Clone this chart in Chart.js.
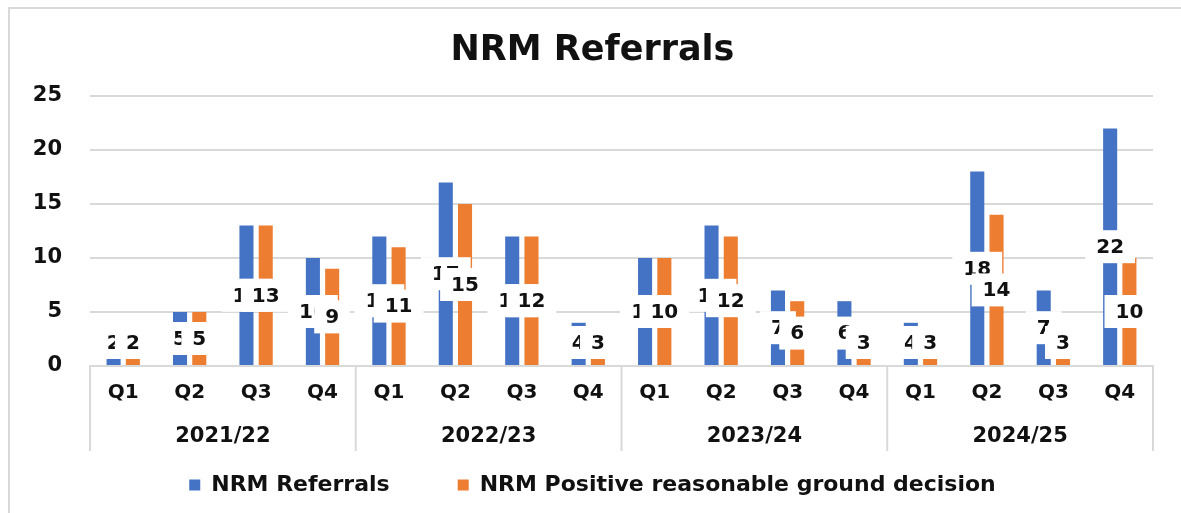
<!DOCTYPE html>
<html>
<head>
<meta charset="utf-8">
<script src="https://cdn.jsdelivr.net/npm/chart.js@4"></script>
<style>
  html, body { margin: 0; padding: 0; background: #fff; }
  #frame { position: absolute; left: 8px; top: 7px; width: 1173px; height: 506px; box-sizing: border-box;
           border-left: 2px solid #d9d9d9; border-top: 2px solid #d9d9d9; }
  #wrap { position: absolute; left: 0; top: 0; width: 1181px; height: 513px; }
</style>
</head>
<body>
<div id="frame"></div>
<div id="wrap"><canvas id="chart"></canvas></div>
<script>
const quarters = ['Q1', 'Q2', 'Q3', 'Q4'];
const years = ['2021/22', '2022/23', '2023/24', '2024/25'];
const referrals = [2, 5, 13, 10, 12, 17, 12, 4, 10, 13, 7, 6, 4, 18, 7, 22];
const positive = [2, 5, 13, 9, 11, 15, 12, 3, 10, 12, 6, 3, 3, 14, 3, 10];
const yTicks = [0, 5, 10, 15, 20, 25];

const FONT = '"DejaVu Sans", sans-serif';
const GRID = '#d9d9d9';
const LEGEND_GAP = 68;

// white boxed value labels in the middle of each bar
const barLabels = {
  id: 'barLabels',
  afterDatasetsDraw(chart) {
    const ctx = chart.ctx;
    ctx.save();
    ctx.font = 'bold 20px ' + FONT;
    ctx.textAlign = 'center';
    ctx.textBaseline = 'middle';
    chart.data.datasets.forEach((ds, i) => {
      chart.getDatasetMeta(i).data.forEach((bar, j) => {
        const text = String(ds.data[j]);
        const w = ctx.measureText(text).width + 22;
        const h = 33;
        const y = Math.min((bar.y + bar.base) / 2, bar.base - 6 - h / 2);
        ctx.fillStyle = '#fff';
        ctx.fillRect(bar.x - w / 2, y - h / 2, w, h);
        ctx.fillStyle = '#111';
        ctx.fillText(text, bar.x, y + 1);
      });
    });
    ctx.restore();
  }
};

// vertical separators between the year groups on the category axis
const yearLines = {
  id: 'yearLines',
  afterDraw(chart) {
    const x = chart.scales.x;
    const half = (x.getPixelForValue(1) - x.getPixelForValue(0)) / 2;
    const ctx = chart.ctx;
    ctx.save();
    ctx.strokeStyle = GRID;
    ctx.lineWidth = 2;
    for (let i = 0; i <= years.length; i++) {
      const px = i < years.length
        ? x.getPixelForValue(i * quarters.length) - half
        : x.getPixelForValue(i * quarters.length - 1) + half;
      ctx.beginPath();
      ctx.moveTo(px, chart.chartArea.bottom);
      ctx.lineTo(px, chart.scales.x2.bottom);
      ctx.stroke();
    }
    ctx.restore();
  }
};

// the wide legend spacing also adds space above the row; pull the legend up
const legendLift = {
  id: 'legendLift',
  afterLayout(chart) {
    const lg = chart.legend;
    const shift = lg.bottom - (chart.height - 7);
    lg.top -= shift;
    lg.bottom -= shift;
  }
};

const ctx = document.getElementById('chart').getContext('2d');
new Chart(ctx, {
  type: 'bar',
  data: {
    labels: years.flatMap(() => quarters),
    datasets: [{
      label: 'NRM Referrals',
      data: referrals,
      backgroundColor: '#4472C4'
    }, {
      label: 'NRM Positive reasonable ground decision',
      data: positive,
      backgroundColor: '#ED7D31'
    }]
  },
  options: {
    responsive: true,
    maintainAspectRatio: false,
    animation: false,
    categoryPercentage: 0.58,
    barPercentage: 0.73,
    layout: { padding: { left: 32, right: 28, top: 12, bottom: 62 - (LEGEND_GAP + 32) } },
    plugins: {
      title: {
        display: true,
        text: 'NRM Referrals',
        color: '#111',
        font: { family: FONT, size: 35, weight: 'bold' },
        padding: { top: 18, bottom: 24 }
      },
      legend: {
        position: 'bottom',
        labels: {
          color: '#111',
          font: { family: FONT, size: 22, weight: 'bold' },
          boxWidth: 11,
          boxHeight: 11,
          padding: LEGEND_GAP
        }
      },
      tooltip: { enabled: false }
    },
    scales: {
      x: {
        grid: { display: false, drawTicks: false },
        border: { display: true, color: GRID, width: 2 },
        ticks: { color: '#111', font: { family: FONT, size: 20, weight: 'bold' }, padding: 15, maxRotation: 0, autoSkip: false },
        afterFit: s => { s.height = 39; s.paddingLeft = 0; s.paddingRight = 0; }
      },
      x2: {
        type: 'category',
        position: 'bottom',
        labels: years,
        offset: true,
        grid: { display: false, drawTicks: false },
        border: { display: false },
        ticks: { color: '#111', font: { family: FONT, size: 21, weight: 'bold' }, padding: 19, maxRotation: 0 },
        afterFit: s => { s.height = 46; s.paddingLeft = 0; s.paddingRight = 0; }
      },
      y: {
        min: 0,
        max: 25,
        afterBuildTicks: axis => { axis.ticks = yTicks.map(v => ({ value: v })); },
        grid: { color: GRID, lineWidth: 2, drawTicks: false },
        border: { display: false },
        ticks: { color: '#111', font: { family: FONT, size: 21, weight: 'bold' }, padding: 28 },
        afterFit: s => { s.width = 58; }
      }
    }
  },
  plugins: [barLabels, yearLines, legendLift]
});
</script>
</body>
</html>
